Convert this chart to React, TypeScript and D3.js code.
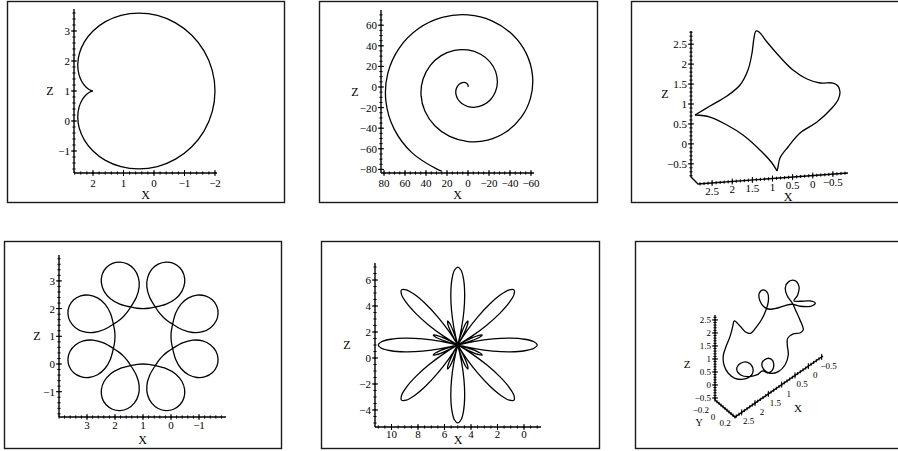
import React from "react";
import * as d3 from "d3";

type P = [number, number];

const W = 898;
const H = 451;
const FONT = "'Liberation Serif','Times New Roman',Times,serif";

// ---------- data ----------
// Panel 1: cardioid, polar [angle deg, radius] about the cusp (X=2, Z=1)
const cardioidCenter: P = [2, 1];
const cardioidPolar: P[] = [
  [-180, 0], [-170, 0.03], [-160, 0.121], [-150, 0.268], [-140, 0.468], [-130, 0.714],
  [-120, 1.0], [-110, 1.316], [-100, 1.653], [-90, 2.0], [-80, 2.347], [-70, 2.684],
  [-60, 3.0], [-50, 3.286], [-40, 3.532], [-30, 3.732], [-20, 3.879], [-10, 3.97],
  [0, 4], [10, 3.97], [20, 3.879], [30, 3.732], [40, 3.532], [50, 3.286], [60, 3.0],
  [70, 2.684], [80, 2.347], [90, 2.0], [100, 1.653], [110, 1.316], [120, 1.0],
  [130, 0.714], [140, 0.468], [150, 0.268], [160, 0.121], [170, 0.03], [180, 0],
];
const p1XLabels = [2, 1, 0, -1, -2];
const p1ZLabels = [-1, 0, 1, 2, 3];

// Panel 2: spiral, polar [angle deg, radius] about the origin
const spiralCenter: P = [0, 0];
const spiralPolar: P[] = [
  [-290, 0.09], [-270, 1.98], [-250, 3.87], [-230, 5.76], [-210, 7.65], [-190, 9.54],
  [-170, 11.42], [-150, 13.31], [-130, 15.2], [-110, 17.09], [-90, 18.98], [-70, 20.87],
  [-50, 22.76], [-30, 24.64], [-10, 26.53], [10, 28.42], [30, 30.31], [50, 32.2],
  [70, 34.09], [90, 35.97], [110, 37.86], [130, 39.75], [150, 41.64], [170, 43.53],
  [190, 45.42], [210, 47.3], [230, 49.19], [250, 51.08], [270, 52.97], [290, 54.86],
  [310, 56.75], [330, 58.64], [350, 60.52], [370, 62.41], [390, 64.3], [410, 66.19],
  [430, 68.08], [450, 69.97], [470, 71.85], [490, 73.74], [510, 75.63], [530, 77.52],
  [550, 79.41], [570, 81.3], [590, 83.18], [610, 85.07], [613, 85.35],
];
const p2XLabels = [80, 60, 40, 20, 0, -20, -40, -60];
const p2ZLabels = [-80, -60, -40, -20, 0, 20, 40, 60];

// Panel 3: four-cornered closed curve [X, Z], split at its sharp cusps
const starUpper: P[] = [
  [2.751, 0.717], [2.378, 0.915], [1.956, 1.134], [1.633, 1.386], [1.435, 1.747],
  [1.335, 2.166], [1.286, 2.538], [1.236, 2.71], [1.161, 2.679], [0.963, 2.414],
  [0.64, 2.014], [0.317, 1.664], [-0.031, 1.413], [-0.353, 1.289], [-0.676, 1.265],
  [-0.8, 1.181], [-0.85, 1.027], [-0.8, 0.83], [-0.651, 0.64], [-0.279, 0.317],
  [0.143, 0.073], [0.441, -0.256], [0.64, -0.517], [0.69, -0.739], [0.714, -0.838],
];
const starLower: P[] = [
  [0.714, -0.838], [0.839, -0.628], [1.137, -0.28], [1.559, 0.127], [1.956, 0.407],
  [2.378, 0.639], [2.751, 0.717],
];
const p3XLabels = [2.5, 2, 1.5, 1, 0.5, 0, -0.5];
const p3ZLabels = [-0.5, 0, 0.5, 1, 1.5, 2, 2.5];

// Panel 4: eight-loop curve, polar [angle deg, radius] about (X=1, Z=1)
const loopsCenter: P = [1, 1];
const loopsPolar: P[] = [
  [0, 1], [11.46, 1.034], [21.11, 1.127], [35.45, 1.429], [40.6, 1.788], [40.51, 2.136], [37.65, 2.434], [33.26, 2.661], [28.05, 2.802], [22.5, 2.85], [16.95, 2.802], [11.74, 2.661], [7.35, 2.434], [4.49, 2.136], [4.4, 1.788], [9.55, 1.429], [23.89, 1.127], [33.54, 1.034],
  [45, 1], [56.46, 1.034], [66.11, 1.127], [80.45, 1.429], [85.6, 1.788], [85.51, 2.136], [82.65, 2.434], [78.26, 2.661], [73.05, 2.802], [67.5, 2.85], [61.95, 2.802], [56.74, 2.661], [52.35, 2.434], [49.49, 2.136], [49.4, 1.788], [54.55, 1.429], [68.89, 1.127], [78.54, 1.034],
  [90, 1], [101.46, 1.034], [111.11, 1.127], [125.45, 1.429], [130.6, 1.788], [130.51, 2.136], [127.65, 2.434], [123.26, 2.661], [118.05, 2.802], [112.5, 2.85], [106.95, 2.802], [101.74, 2.661], [97.35, 2.434], [94.49, 2.136], [94.4, 1.788], [99.55, 1.429], [113.89, 1.127], [123.54, 1.034],
  [135, 1], [146.46, 1.034], [156.11, 1.127], [170.45, 1.429], [175.6, 1.788], [175.51, 2.136], [172.65, 2.434], [168.26, 2.661], [163.05, 2.802], [157.5, 2.85], [151.95, 2.802], [146.74, 2.661], [142.35, 2.434], [139.49, 2.136], [139.4, 1.788], [144.55, 1.429], [158.89, 1.127], [168.54, 1.034],
  [180, 1], [191.46, 1.034], [201.11, 1.127], [215.45, 1.429], [220.6, 1.788], [220.51, 2.136], [217.65, 2.434], [213.26, 2.661], [208.05, 2.802], [202.5, 2.85], [196.95, 2.802], [191.74, 2.661], [187.35, 2.434], [184.49, 2.136], [184.4, 1.788], [189.55, 1.429], [203.89, 1.127], [213.54, 1.034],
  [225, 1], [236.46, 1.034], [246.11, 1.127], [260.45, 1.429], [265.6, 1.788], [265.51, 2.136], [262.65, 2.434], [258.26, 2.661], [253.05, 2.802], [247.5, 2.85], [241.95, 2.802], [236.74, 2.661], [232.35, 2.434], [229.49, 2.136], [229.4, 1.788], [234.55, 1.429], [248.89, 1.127], [258.54, 1.034],
  [270, 1], [281.46, 1.034], [291.11, 1.127], [305.45, 1.429], [310.6, 1.788], [310.51, 2.136], [307.65, 2.434], [303.26, 2.661], [298.05, 2.802], [292.5, 2.85], [286.95, 2.802], [281.74, 2.661], [277.35, 2.434], [274.49, 2.136], [274.4, 1.788], [279.55, 1.429], [293.89, 1.127], [303.54, 1.034],
  [315, 1], [326.46, 1.034], [336.11, 1.127], [350.45, 1.429], [355.6, 1.788], [355.51, 2.136], [352.65, 2.434], [348.26, 2.661], [343.05, 2.802], [337.5, 2.85], [331.95, 2.802], [326.74, 2.661], [322.35, 2.434], [319.49, 2.136], [319.4, 1.788], [324.55, 1.429], [338.89, 1.127], [348.54, 1.034],
];
const p4XLabels = [3, 2, 1, 0, -1];
const p4ZLabels = [-1, 0, 1, 2, 3];

// Panel 5: rose with eight long and eight short petals, polar about (X=5, Z=1)
const roseCenter: P = [5, 1];
const rosePolar: P[] = [
  [0, 6], [2.5, 5.759], [5, 5.064], [7.5, 4], [10, 2.695], [12.5, 1.305], [15, 0], [17.5, -1.064], [20, -1.759], [22.5, -2], [25, -1.759], [27.5, -1.064], [30, 0], [32.5, 1.305], [35, 2.695], [37.5, 4], [40, 5.064], [42.5, 5.759],
  [45, 6], [47.5, 5.759], [50, 5.064], [52.5, 4], [55, 2.695], [57.5, 1.305], [60, 0], [62.5, -1.064], [65, -1.759], [67.5, -2], [70, -1.759], [72.5, -1.064], [75, 0], [77.5, 1.305], [80, 2.695], [82.5, 4], [85, 5.064], [87.5, 5.759],
  [90, 6], [92.5, 5.759], [95, 5.064], [97.5, 4], [100, 2.695], [102.5, 1.305], [105, 0], [107.5, -1.064], [110, -1.759], [112.5, -2], [115, -1.759], [117.5, -1.064], [120, 0], [122.5, 1.305], [125, 2.695], [127.5, 4], [130, 5.064], [132.5, 5.759],
  [135, 6], [137.5, 5.759], [140, 5.064], [142.5, 4], [145, 2.695], [147.5, 1.305], [150, 0], [152.5, -1.064], [155, -1.759], [157.5, -2], [160, -1.759], [162.5, -1.064], [165, 0], [167.5, 1.305], [170, 2.695], [172.5, 4], [175, 5.064], [177.5, 5.759],
  [180, 6], [182.5, 5.759], [185, 5.064], [187.5, 4], [190, 2.695], [192.5, 1.305], [195, 0], [197.5, -1.064], [200, -1.759], [202.5, -2], [205, -1.759], [207.5, -1.064], [210, 0], [212.5, 1.305], [215, 2.695], [217.5, 4], [220, 5.064], [222.5, 5.759],
  [225, 6], [227.5, 5.759], [230, 5.064], [232.5, 4], [235, 2.695], [237.5, 1.305], [240, 0], [242.5, -1.064], [245, -1.759], [247.5, -2], [250, -1.759], [252.5, -1.064], [255, 0], [257.5, 1.305], [260, 2.695], [262.5, 4], [265, 5.064], [267.5, 5.759],
  [270, 6], [272.5, 5.759], [275, 5.064], [277.5, 4], [280, 2.695], [282.5, 1.305], [285, 0], [287.5, -1.064], [290, -1.759], [292.5, -2], [295, -1.759], [297.5, -1.064], [300, 0], [302.5, 1.305], [305, 2.695], [307.5, 4], [310, 5.064], [312.5, 5.759],
  [315, 6], [317.5, 5.759], [320, 5.064], [322.5, 4], [325, 2.695], [327.5, 1.305], [330, 0], [332.5, -1.064], [335, -1.759], [337.5, -2], [340, -1.759], [342.5, -1.064], [345, 0], [347.5, 1.305], [350, 2.695], [352.5, 4], [355, 5.064], [357.5, 5.759],
];
const p5XLabels = [10, 8, 6, 4, 2, 0];
const p5ZLabels = [-4, -2, 0, 2, 4, 6];

// Panel 6: closed space curve, [X, Z] seen in the plane Y = 0
const knotPath: P[] = [
  [-0.186, 0.356], [-0.062, 0.828], [0.088, 1.281], [0.227, 1.687], [0.414, 2.09],
  [0.489, 2.451], [0.362, 2.602], [0.125, 2.473], [-0.025, 2.136], [0.024, 1.851],
  [0.163, 1.719], [-0.062, 1.547], [-0.437, 1.292], [-0.636, 1.063], [-0.463, 1.07],
  [-0.062, 1.355], [0.238, 1.645], [0.5, 1.778], [0.812, 1.899], [1.063, 2.039],
  [1.25, 2.234], [1.438, 2.625], [1.464, 2.94], [1.314, 2.96], [1.149, 2.716],
  [1.126, 2.377], [1.213, 2.119], [1.351, 1.898], [1.561, 1.725], [1.786, 1.63],
  [1.963, 1.794], [2.188, 2.197], [2.401, 2.541], [2.461, 2.364], [2.563, 2.052],
  [2.713, 1.773], [2.814, 1.499], [2.787, 1.123], [2.626, 0.689], [2.375, 0.318],
  [2.0, 0.025], [1.749, 0.0], [1.711, 0.254], [1.899, 0.595], [2.161, 0.743],
  [2.311, 0.63], [2.161, 0.293], [1.876, 0.025], [1.561, -0.133], [1.336, -0.139],
  [1.138, -0.357], [0.939, -0.318], [0.961, -0.01], [1.149, 0.216], [1.351, 0.206],
  [1.314, -0.078], [1.063, -0.422], [0.751, -0.582], [0.5, -0.503], [0.377, -0.206],
  [0.414, 0.205], [0.399, 0.452], [0.189, 0.468], [-0.062, 0.328],
];
const p6XLabels = [2.5, 2, 1.5, 1, 0.5, 0, -0.5];
const p6YLabels = [-0.2, 0, 0.2];
const p6ZLabels = [-0.5, 0, 0.5, 1, 1.5, 2, 2.5];

// ---------- helpers ----------
const fmt = (v: number) => (v < 0 ? "\u2212" + String(-v) : String(v));

function polarToXZ(c: P, pts: P[]): P[] {
  return pts.map(([deg, r]) => {
    const a = (deg * Math.PI) / 180;
    return [c[0] - r * Math.cos(a), c[1] + r * Math.sin(a)] as P;
  });
}

function stepValues(a: number, b: number, step: number): number[] {
  const lo = Math.min(a, b);
  const hi = Math.max(a, b);
  const out: number[] = [];
  for (let i = Math.ceil(lo / step - 1e-9); i * step <= hi + 1e-9; i++) out.push(+(i * step).toFixed(6));
  return out;
}

const INK = "#000";

type FlatCfg = {
  xDomain: P;
  xRange: P;
  zDomain: P;
  zRange: P;
  xStep: number;
  zStep: number;
  xLabels: number[];
  zLabels: number[];
  labelGap: number;
  titleGap: number;
  zTitleX: number;
  curves: { pts: P[]; closed: boolean }[];
};

function FlatPanel({ cfg }: { cfg: FlatCfg }) {
  const x = d3.scaleLinear().domain(cfg.xDomain).range(cfg.xRange);
  const z = d3.scaleLinear().domain(cfg.zDomain).range(cfg.zRange);
  const [xl, xr] = cfg.xRange;
  const [zb, zt] = cfg.zRange;
  const xMinor = stepValues(cfg.xDomain[0], cfg.xDomain[1], cfg.xStep);
  const zMinor = stepValues(cfg.zDomain[0], cfg.zDomain[1], cfg.zStep);
  return (
    <g>
      {cfg.curves.map((c, i) => {
        const line = d3
          .line<P>()
          .x((d) => x(d[0]))
          .y((d) => z(d[1]))
          .curve(c.closed ? d3.curveCatmullRomClosed.alpha(0.5) : d3.curveCatmullRom.alpha(0.5));
        return <path key={i} d={line(c.pts) || ""} fill="none" stroke={INK} strokeWidth={1.3} strokeLinejoin="round" />;
      })}
      <line x1={xl} x2={xr} y1={zb} y2={zb} stroke={INK} strokeWidth={1.4} />
      <line x1={xl} x2={xl} y1={zb} y2={zt} stroke={INK} strokeWidth={1.4} />
      {xMinor.map((v) => (
        <line key={"xm" + v} x1={x(v)} x2={x(v)} y1={zb - 1.6} y2={zb + 1.6} stroke={INK} strokeWidth={1} />
      ))}
      {zMinor.map((v) => (
        <line key={"zm" + v} x1={xl - 1.6} x2={xl + 1.6} y1={z(v)} y2={z(v)} stroke={INK} strokeWidth={1} />
      ))}
      {cfg.xLabels.map((v) => (
        <g key={"xl" + v}>
          <line x1={x(v)} x2={x(v)} y1={zb - 3} y2={zb + 3} stroke={INK} strokeWidth={1} />
          <text x={x(v)} y={zb + cfg.labelGap} textAnchor="middle" fontSize={11} fontFamily={FONT} fill={INK}>
            {fmt(v)}
          </text>
        </g>
      ))}
      {cfg.zLabels.map((v) => (
        <g key={"zl" + v}>
          <line x1={xl - 3} x2={xl + 3} y1={z(v)} y2={z(v)} stroke={INK} strokeWidth={1} />
          <text x={xl - 4} y={z(v) + 4} textAnchor="end" fontSize={11} fontFamily={FONT} fill={INK}>
            {fmt(v)}
          </text>
        </g>
      ))}
      <text x={(xl + xr) / 2} y={zb + cfg.titleGap} textAnchor="middle" fontSize={12} fontFamily={FONT} fill={INK}>
        X
      </text>
      <text x={cfg.zTitleX} y={(zb + zt) / 2 + 4} textAnchor="middle" fontSize={12} fontFamily={FONT} fill={INK}>
        Z
      </text>
    </g>
  );
}

// Oblique box axes: Z axis rises from corner C to D, Y axis runs C -> A, X axis runs A -> B
type BoxCfg = {
  C: P; D: P; A: P; B: P;
  xDomain: P; yDomain: P; zDomain: P;
};

function makeProjector(b: BoxCfg) {
  const fx = d3.scaleLinear().domain(b.xDomain).range([0, 1]);
  const fy = d3.scaleLinear().domain(b.yDomain).range([0, 1]);
  const fz = d3.scaleLinear().domain(b.zDomain).range([0, 1]);
  return (X: number, Y: number, Z: number): P => {
    const tx = fx(X), ty = fy(Y), tz = fz(Z);
    return [
      b.C[0] + ty * (b.A[0] - b.C[0]) + tx * (b.B[0] - b.A[0]) + tz * (b.D[0] - b.C[0]),
      b.C[1] + ty * (b.A[1] - b.C[1]) + tx * (b.B[1] - b.A[1]) + tz * (b.D[1] - b.C[1]),
    ];
  };
}

function BoxAxes({ b, proj, xLabels, zLabels, yLabels, step, xTitle, zTitle, yTitle, xLabelOff, fs, titleFs }: any) {
  const yMin = b.yDomain[0];
  const yMax = b.yDomain[1];
  const zBase = b.zDomain[0];
  const xStart = b.xDomain[0];
  const onZ = (v: number) => proj(xStart, yMin, v);
  const onX = (v: number) => proj(v, yMax, zBase);
  const onY = (v: number) => proj(xStart, v, zBase);
  const zMinor = stepValues(b.zDomain[0], b.zDomain[1], step);
  const xMinor = stepValues(b.xDomain[0], b.xDomain[1], step);
  const yMinor = stepValues(b.yDomain[0], b.yDomain[1], 0.05);
  return (
    <g>
      <polyline
        points={[b.D, b.C, b.A, b.B].map((p: P) => p.join(",")).join(" ")}
        fill="none"
        stroke={INK}
        strokeWidth={1.4}
      />
      {zMinor.map((v) => {
        const p = onZ(v);
        return <line key={"z" + v} x1={p[0] - 1.6} x2={p[0] + 1.6} y1={p[1]} y2={p[1]} stroke={INK} strokeWidth={1} />;
      })}
      {xMinor.map((v) => {
        const p = onX(v);
        return <line key={"x" + v} x1={p[0]} x2={p[0]} y1={p[1] - 1.6} y2={p[1] + 1.6} stroke={INK} strokeWidth={1} />;
      })}
      {yLabels &&
        yMinor.map((v) => {
          const p = onY(v);
          return <line key={"y" + v} x1={p[0]} x2={p[0]} y1={p[1] - 1.6} y2={p[1] + 1.6} stroke={INK} strokeWidth={1} />;
        })}
      {zLabels.map((v: number) => {
        const p = onZ(v);
        return (
          <g key={"zl" + v}>
            <line x1={p[0] - 3} x2={p[0] + 3} y1={p[1]} y2={p[1]} stroke={INK} strokeWidth={1} />
            <text x={p[0] - 4} y={p[1] + fs * 0.35} textAnchor="end" fontSize={fs} fontFamily={FONT} fill={INK}>
              {fmt(v)}
            </text>
          </g>
        );
      })}
      {xLabels.map((v: number) => {
        const p = onX(v);
        return (
          <g key={"xl" + v}>
            <line x1={p[0]} x2={p[0]} y1={p[1] - 3} y2={p[1] + 3} stroke={INK} strokeWidth={1} />
            <text x={p[0] + xLabelOff[0]} y={p[1] + xLabelOff[1]} textAnchor="middle" fontSize={fs} fontFamily={FONT} fill={INK}>
              {fmt(v)}
            </text>
          </g>
        );
      })}
      {yLabels &&
        yLabels.map((v: number, i: number) => {
          const p = onY(v);
          const anchor = i === 0 ? "end" : "middle";
          const dx = i === 0 ? -8 : i === 1 ? -12 : -8;
          const dy = i === 0 ? 11 : 11;
          return (
            <text key={"yl" + v} x={p[0] + dx} y={p[1] + dy} textAnchor={anchor} fontSize={fs} fontFamily={FONT} fill={INK}>
              {fmt(v)}
            </text>
          );
        })}
      <text x={xTitle[0]} y={xTitle[1]} textAnchor="middle" fontSize={titleFs} fontFamily={FONT} fill={INK}>X</text>
      <text x={zTitle[0]} y={zTitle[1]} textAnchor="middle" fontSize={titleFs} fontFamily={FONT} fill={INK}>Z</text>
      {yTitle && (
        <text x={yTitle[0]} y={yTitle[1]} textAnchor="middle" fontSize={titleFs - 1} fontFamily={FONT} fill={INK}>Y</text>
      )}
    </g>
  );
}

const box3: BoxCfg = {
  C: [691, 177], D: [691, 31], A: [698, 184], B: [848, 173],
  xDomain: [2.85, -0.875], yDomain: [0, 1], zDomain: [-0.83, 2.83],
};
const box6: BoxCfg = {
  C: [715, 400], D: [715, 315], A: [735, 417], B: [823, 356],
  xDomain: [2.75, -0.55], yDomain: [-0.25, 0.25], zDomain: [-0.577, 2.69],
};

function BoxCurve({ proj, pts, y, closed }: { proj: any; pts: P[]; y: number; closed?: boolean }) {
  const line = d3
    .line<P>()
    .x((d) => proj(d[0], y, d[1])[0])
    .y((d) => proj(d[0], y, d[1])[1])
    .curve(closed ? d3.curveCatmullRomClosed.alpha(0.5) : d3.curveCatmullRom.alpha(0.5));
  return <path d={line(pts) || ""} fill="none" stroke={INK} strokeWidth={1.3} strokeLinejoin="round" />;
}

const frames: [number, number, number, number][] = [
  [7, 1, 284, 202],
  [319, 1, 597, 202],
  [631, 1, 899, 202],
  [4, 241, 281, 448],
  [321, 241, 599, 448],
  [635, 241, 899, 448],
];

export default function App() {
  const proj3 = makeProjector(box3);
  const proj6 = makeProjector(box6);

  const p1: FlatCfg = {
    xDomain: [2.623, -2.066], xRange: [74, 217],
    zDomain: [-1.733, 3.733], zRange: [173, 9],
    xStep: 0.2, zStep: 0.2, xLabels: p1XLabels, zLabels: p1ZLabels,
    labelGap: 14, titleGap: 26, zTitleX: 50,
    curves: [{ pts: polarToXZ(cardioidCenter, cardioidPolar), closed: false }],
  };
  const p2: FlatCfg = {
    xDomain: [82.86, -62.86], xRange: [381, 534],
    zDomain: [-83.5, 74.76], zRange: [173, 10],
    xStep: 5, zStep: 5, xLabels: p2XLabels, zLabels: p2ZLabels,
    labelGap: 14, titleGap: 26, zTitleX: 355,
    curves: [{ pts: polarToXZ(spiralCenter, spiralPolar), closed: false }],
  };
  const p4: FlatCfg = {
    xDomain: [4.0, -1.964], xRange: [59, 226],
    zDomain: [-1.913, 3.935], zRange: [417, 255],
    xStep: 0.2, zStep: 0.2, xLabels: p4XLabels, zLabels: p4ZLabels,
    labelGap: 12, titleGap: 27, zTitleX: 37,
    curves: [{ pts: polarToXZ(loopsCenter, loopsPolar), closed: true }],
  };
  const p5: FlatCfg = {
    xDomain: [11.245, -1.283], xRange: [375, 541],
    zDomain: [-5.31, 7.31], zRange: [427, 263],
    xStep: 0.5, zStep: 0.5, xLabels: p5XLabels, zLabels: p5ZLabels,
    labelGap: 11, titleGap: 17, zTitleX: 347,
    curves: [{ pts: polarToXZ(roseCenter, rosePolar), closed: true }],
  };

  return (
    <svg
      width={W}
      height={H}
      viewBox={`0 0 ${W} ${H}`}
      style={{ position: "absolute", left: 0, top: 0, background: "#fff" }}
    >
      <rect x={0} y={0} width={W} height={H} fill="#fff" />
      {frames.map(([x0, y0, x1, y1], i) => (
        <rect key={i} x={x0 + 0.5} y={y0 + 0.5} width={x1 - x0} height={y1 - y0} fill="none" stroke="#1a1a1a" strokeWidth={1.4} />
      ))}
      <FlatPanel cfg={p1} />
      <FlatPanel cfg={p2} />
      <FlatPanel cfg={p4} />
      <FlatPanel cfg={p5} />

      <BoxCurve proj={proj3} pts={starUpper} y={0} />
      <BoxCurve proj={proj3} pts={starLower} y={0} />
      <BoxAxes b={box3} proj={proj3} xLabels={p3XLabels} zLabels={p3ZLabels} step={0.1}
        xTitle={[788, 201]} zTitle={[665, 98]} xLabelOff={[0, 12]} fs={11} titleFs={12} />

      <BoxCurve proj={proj6} pts={knotPath} y={0} closed />
      <BoxAxes b={box6} proj={proj6} xLabels={p6XLabels} zLabels={p6ZLabels} yLabels={p6YLabels} step={0.1}
        xTitle={[798, 412]} zTitle={[687, 368]} yTitle={[699, 426]} xLabelOff={[7, 12]} fs={9} titleFs={11} />
    </svg>
  );
}
